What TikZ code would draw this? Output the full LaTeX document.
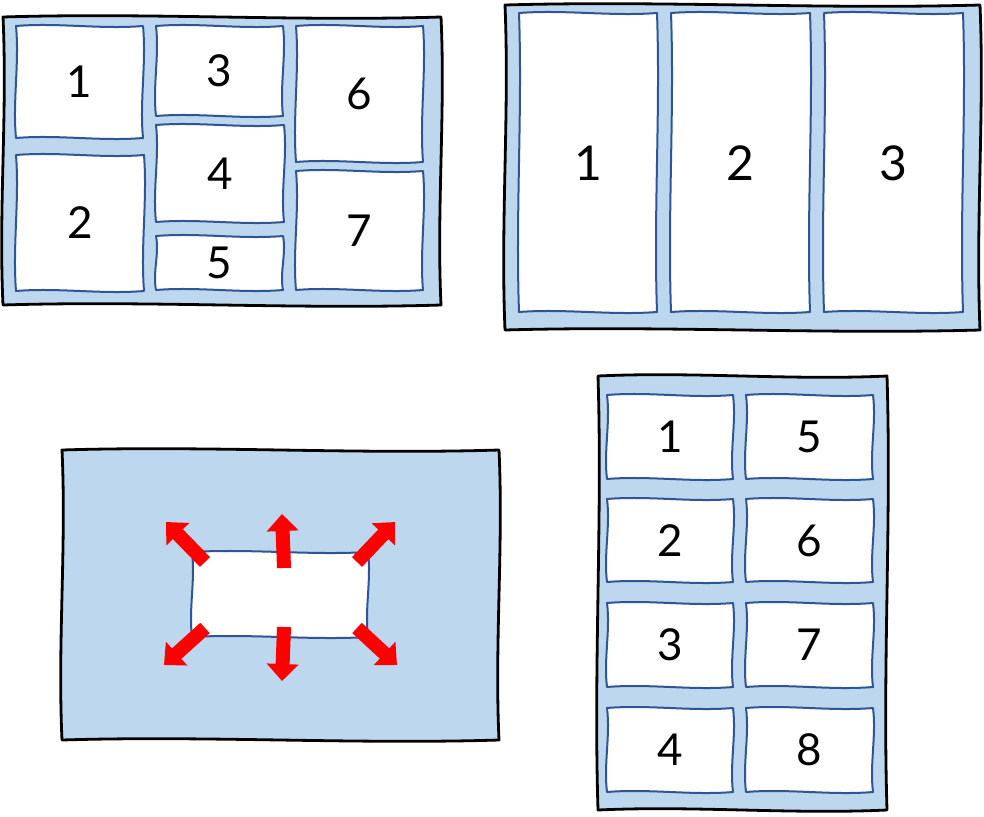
\documentclass[tikz,border=0pt]{standalone}
\usepackage{fontspec}
\setmainfont{Lato}
\usetikzlibrary{arrows.meta}
\definecolor{panelblue}{HTML}{BDD7EE}
\definecolor{boxblue}{HTML}{2F5597}
\definecolor{arrred}{HTML}{FF0000}
\tikzset{
  panel/.style={fill=panelblue,draw=black,line width=2.8pt,line join=round},
  cell/.style={fill=white,draw=boxblue,line width=2pt,line join=round},
  num/.style={font=\fontsize{44}{44}\selectfont,text=black},
  numbig/.style={font=\fontsize{48}{48}\selectfont,text=black},
  redarrow/.style={draw=arrred,line width=14pt,-{Triangle[width=31pt,length=17pt,fill=arrred]}}
}
% wobbly rectangle: x1 y1 x2 y2 amplitude
\newcommand{\wobrect}[5]{%
 (#1,#2) .. controls ({#1+(#3-#1)/3},{#2-#5}) and ({#1+2*(#3-#1)/3},{#2+#5}) .. (#3,#2)
 .. controls ({#3+#5},{#2+(#4-#2)/3}) and ({#3-#5},{#2+2*(#4-#2)/3}) .. (#3,#4)
 .. controls ({#3-(#3-#1)/3},{#4+#5}) and ({#3-2*(#3-#1)/3},{#4-#5}) .. (#1,#4)
 .. controls ({#1-#5},{#4-(#4-#2)/3}) and ({#1+#5},{#4-2*(#4-#2)/3}) .. (#1,#2) -- cycle}
\newcommand{\cellbox}[6]{%
  \draw[cell] \wobrect{#1}{#2}{#3}{#4}{3.5};
  \node[num] (#6) at ({(#1+#3)/2},{(#2+#4)/2}) {#5};}
\begin{document}
\begin{tikzpicture}[x=1pt,y=-1pt]
\useasboundingbox (0,0) rectangle (984,816);
% Panel A
\draw[panel] \wobrect{3}{17}{441}{305}{4.5};
\cellbox{16}{26}{143}{138}{1}{a1}
\cellbox{16}{155}{144}{291}{2}{a2}
\cellbox{156}{26}{283}{116}{3}{a3}
\cellbox{156}{125}{284}{222}{4}{a4}
\cellbox{156}{236}{283}{290}{5}{a5}
\cellbox{296}{26}{423}{162}{6}{a6}
\cellbox{296}{171}{423}{290}{7}{a7}
% Panel B
\draw[panel] \wobrect{505}{5}{980}{330}{4.5};
\draw[cell] \wobrect{519}{13}{657}{312}{3.5};
\node[numbig] (b1) at (588,163) {1};
\draw[cell] \wobrect{671}{13}{810}{312}{3.5};
\node[numbig] (b2) at (740,163) {2};
\draw[cell] \wobrect{824}{13}{963}{312}{3.5};
\node[numbig] (b3) at (893,163) {3};
% Panel C
\draw[panel] \wobrect{62}{450}{499}{740}{4.5};
\draw[cell] \wobrect{192}{552}{368}{637}{3.5};
\coordinate (ut) at (284,568); \coordinate (uh) at (282,514);
\coordinate (dt) at (284,627); \coordinate (dh) at (282,681);
\coordinate (ult) at (205,562); \coordinate (ulh) at (166,522);
\coordinate (urt) at (357,562); \coordinate (urh) at (395,522);
\coordinate (llt) at (205,628); \coordinate (llh) at (164,665);
\coordinate (lrt) at (357,628); \coordinate (lrh) at (397,665);
\draw[redarrow] (ut) -- (uh);
\draw[redarrow] (dt) -- (dh);
\draw[redarrow] (ult) -- (ulh);
\draw[redarrow] (urt) -- (urh);
\draw[redarrow] (llt) -- (llh);
\draw[redarrow] (lrt) -- (lrh);
% Panel D
\draw[panel] \wobrect{598}{376}{887}{810}{4.5};
\cellbox{607}{395}{733}{479}{1}{d1}
\cellbox{607}{499}{733}{582}{2}{d2}
\cellbox{607}{603}{733}{687}{3}{d3}
\cellbox{607}{708}{733}{792}{4}{d4}
\cellbox{746}{395}{873}{479}{5}{d5}
\cellbox{746}{499}{873}{582}{6}{d6}
\cellbox{746}{603}{873}{687}{7}{d7}
\cellbox{746}{708}{873}{792}{8}{d8}
\end{tikzpicture}
\end{document}
